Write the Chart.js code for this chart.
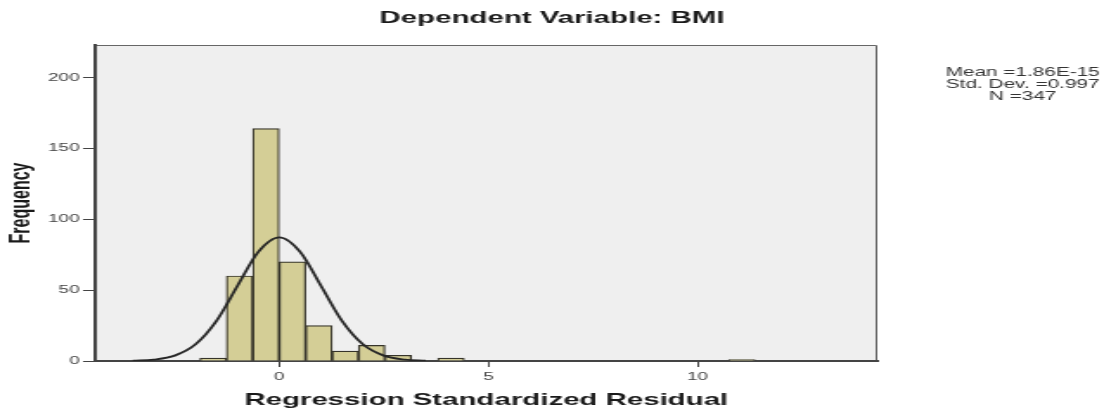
<!DOCTYPE html>
<html>
<head>
<meta charset="utf-8">
<title>Dependent Variable: BMI</title>
<script src="https://cdn.jsdelivr.net/npm/chart.js@4.4.1/dist/chart.umd.min.js"></script>
<style>
  html, body { margin: 0; padding: 0; background: #fff; }
</style>
</head>
<body>
<!-- the source picture is stretched sideways, so draw narrow and show it wide -->
<canvas id="histChart" width="638" height="413" style="display:block;width:1104px;height:413px;"></canvas>
<script>
// histogram bins (centre of each bin, width 0.632)
const binCenters = [-1.58, -0.948, -0.316, 0.316, 0.948, 1.58, 2.212, 2.844, 4.108, 11.06];
const binCounts = [2, 60, 164, 70, 25, 7, 11, 4, 2, 1];

// normal curve
const curveX = [-3.5, -3, -2.5, -2, -1.5, -1, -0.5, 0, 0.5, 1, 1.5, 2, 2.5, 3, 3.5];
const curveY = [0.2, 1.0, 3.8, 11.8, 28.3, 52.9, 77.0, 87.2, 77.0, 52.9, 28.3, 11.8, 3.8, 1.0, 0.2];

const xTickValues = [0, 5, 10];
const yTickValues = [0, 50, 100, 150, 200];

const chartTitle = "Dependent Variable: BMI";
const statsLines = ["Mean =1.86E-15", "Std. Dev. =0.997", "N =347"];

const FONT = "'Liberation Sans', Arial, sans-serif";

const spssFrame = {
  id: "spssFrame",
  beforeDraw(chart) {
    const { ctx, chartArea: a } = chart;
    ctx.save();
    ctx.fillStyle = "#efefef";
    ctx.fillRect(a.left, a.top, a.right - a.left, a.bottom - a.top);
    ctx.strokeStyle = "#666";
    ctx.lineWidth = 1;
    ctx.beginPath();
    ctx.moveTo(a.left, a.top + 0.5);
    ctx.lineTo(a.right - 0.5, a.top + 0.5);
    ctx.lineTo(a.right - 0.5, a.bottom);
    ctx.stroke();
    ctx.restore();
  },
  afterDraw(chart) {
    const ctx = chart.ctx;
    ctx.save();
    ctx.textAlign = "center";
    ctx.textBaseline = "middle";
    ctx.fillStyle = "#1a1a1a";
    ctx.font = "bold 17px " + FONT;
    ctx.fillText(chartTitle, chart.width / 2, 18);

    ctx.fillStyle = "#333";
    ctx.font = "12px " + FONT;
    statsLines.forEach((line, i) => {
      ctx.fillText(line, 591, 73 + i * 12);
    });
    ctx.restore();
  },
};

const ctx = document.getElementById("histChart").getContext("2d");

new Chart(ctx, {
  type: "bar",
  data: {
    datasets: [
      {
        type: "bar",
        data: binCenters.map((x, i) => ({ x: x, y: binCounts[i] })),
        backgroundColor: "#d4ce96",
        borderColor: "#36342a",
        borderWidth: 1.2,
        barPercentage: 1,
        categoryPercentage: 1,
        order: 2,
      },
      {
        type: "line",
        data: curveX.map((x, i) => ({ x: x, y: curveY[i] })),
        borderColor: "#262626",
        borderWidth: 1.8,
        pointRadius: 0,
        fill: false,
        cubicInterpolationMode: "monotone",
        order: 1,
      },
    ],
  },
  options: {
    responsive: false,
    devicePixelRatio: 1,
    animation: false,
    layout: { padding: { left: 0, right: 131, top: 45, bottom: 0 } },
    plugins: {
      legend: { display: false },
      tooltip: { enabled: false },
      title: { display: false },
    },
    scales: {
      x: {
        type: "linear",
        offset: false,
        min: -4.4,
        max: 14.3,
        afterBuildTicks: (scale) => {
          scale.ticks = xTickValues.map((v) => ({ value: v }));
        },
        afterFit: (scale) => {
          scale.height = 52;
        },
        grid: { offset: false, drawOnChartArea: false, drawTicks: true, tickLength: 6, color: "#444" },
        border: { display: true, color: "#444", width: 2 },
        ticks: { color: "#444", font: { family: FONT, size: 11 }, padding: 3, maxRotation: 0 },
        title: {
          display: true,
          text: "Regression Standardized Residual",
          color: "#1a1a1a",
          font: { family: FONT, size: 17, weight: "bold" },
          padding: { top: 0, bottom: 2 },
        },
      },
      y: {
        min: 0,
        max: 223,
        afterBuildTicks: (scale) => {
          scale.ticks = yTickValues.map((v) => ({ value: v }));
        },
        afterFit: (scale) => {
          scale.width = 55;
        },
        grid: { drawOnChartArea: false, drawTicks: true, tickLength: 7, color: "#444" },
        border: { display: true, color: "#444", width: 2 },
        ticks: { color: "#444", font: { family: FONT, size: 11 }, padding: 2 },
        title: {
          display: true,
          text: "Frequency",
          color: "#1a1a1a",
          font: { family: FONT, size: 16, weight: "bold" },
          padding: { top: 3, bottom: 0 },
        },
      },
    },
  },
  plugins: [spssFrame],
});
</script>
</body>
</html>
